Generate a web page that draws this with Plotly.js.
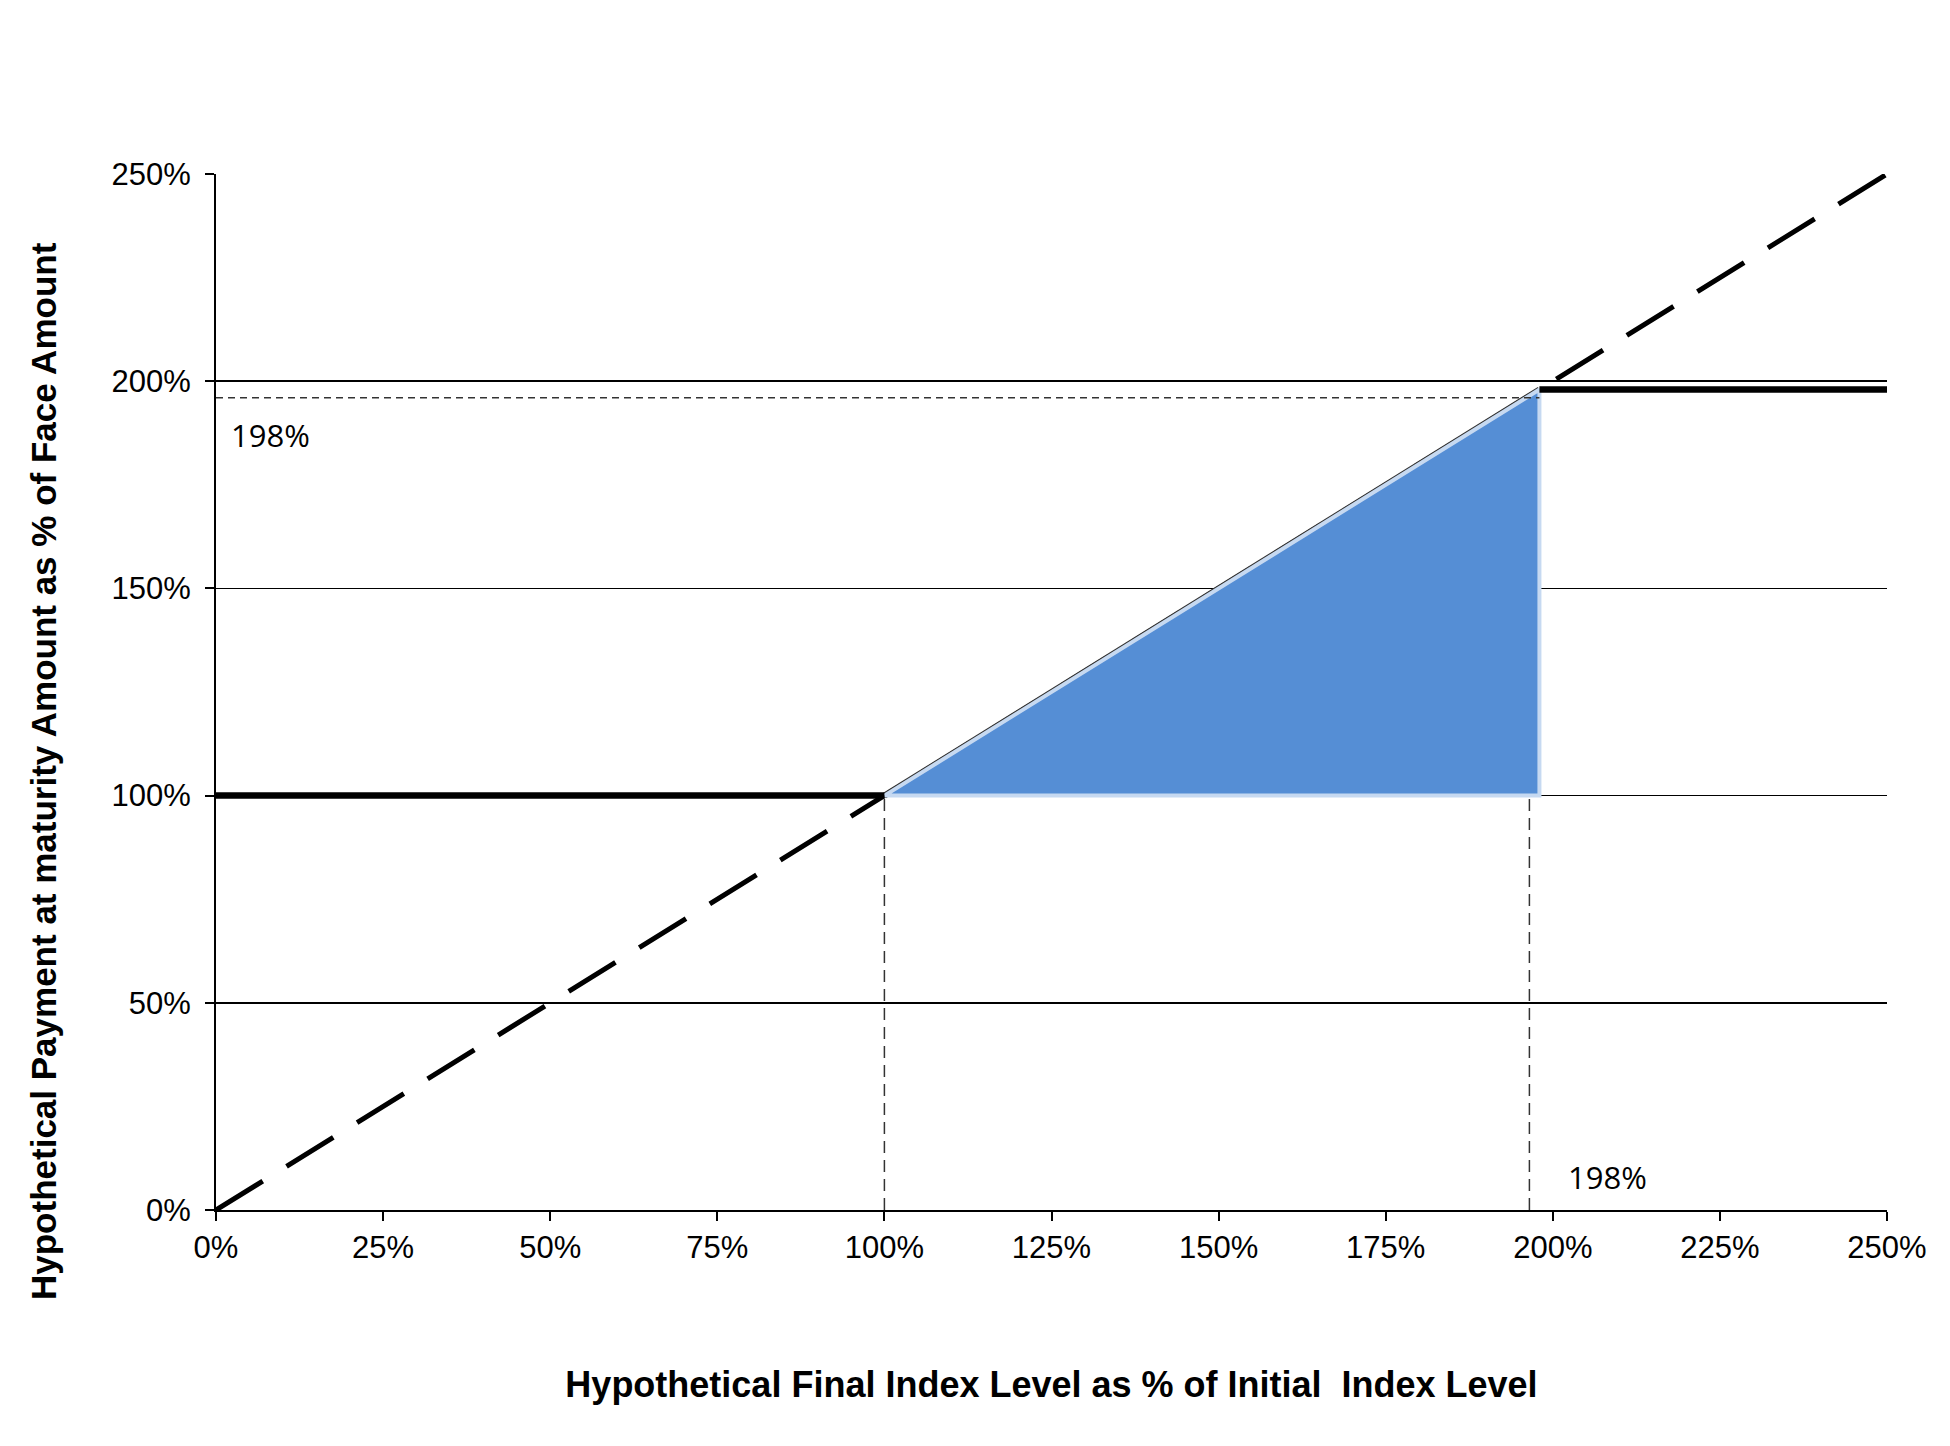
<!DOCTYPE html>
<html>
<head>
<meta charset="utf-8">
<script src="https://cdn.plot.ly/plotly-3.0.1.min.js"></script>
<style>html,body{margin:0;padding:0;background:#fff;}#chart{width:1950px;height:1446px;}</style>
</head>
<body>
<div id="chart"></div>
<script>
// Data (percent)
const diagX = [0, 250];
const diagY = [0, 250];
const floorX = [0, 100];
const floorY = [100, 100];
const capX = [198, 250];
const capY = [198, 198];
const triX = [100, 198, 198, 100];
const triY = [100, 198, 100, 100];
const hypX = [100, 198];
const hypY = [100, 198];
const dropX1 = [100, 100];
const dropY1 = [0, 100];
const dropX2 = [196.5, 196.5];
const dropY2 = [0, 100];
const capRefX = [0, 198];
const capRefY = [196, 196];
const tickVals = [0, 25, 50, 75, 100, 125, 150, 175, 200, 225, 250];
const yTickVals = [0, 50, 100, 150, 200, 250];
const capLabel = "198%";

const traces = [
  {x: diagX, y: diagY, mode: 'lines', line: {color: '#000', width: 5, dash: '55px,28px'}, hoverinfo: 'skip'},
  {x: hypX, y: hypY, mode: 'lines', line: {color: '#333', width: 6}, hoverinfo: 'skip'},
  {x: triX, y: triY, mode: 'lines', fill: 'toself', fillcolor: '#558ED5', line: {color: '#C6D9F1', width: 4}, hoverinfo: 'skip'},
  {x: dropX1, y: dropY1, mode: 'lines', line: {color: '#333', width: 1.5, dash: '12px,7px'}, hoverinfo: 'skip'},
  {x: dropX2, y: dropY2, mode: 'lines', line: {color: '#333', width: 1.5, dash: '12px,7px'}, hoverinfo: 'skip'},
  {x: capRefX, y: capRefY, mode: 'lines', line: {color: '#333', width: 1.5, dash: '7px,5px'}, hoverinfo: 'skip'},
  {x: floorX, y: floorY, mode: 'lines', line: {color: '#000', width: 6.5}, hoverinfo: 'skip'},
  {x: capX, y: capY, mode: 'lines', line: {color: '#000', width: 6.5}, hoverinfo: 'skip'}
];

const tickFont = {family: 'Liberation Sans, Arial, sans-serif', size: 31, color: '#000'};

const layout = {
  width: 1950, height: 1446,
  paper_bgcolor: '#fff', plot_bgcolor: '#fff',
  showlegend: false,
  margin: {l: 216, r: 63, t: 174, b: 236, autoexpand: false},
  xaxis: {
    range: [0, 250], tickvals: tickVals, ticktext: tickVals.map(v => v + '%'),
    showgrid: false, zeroline: false, showline: true, linecolor: '#000', linewidth: 2,
    ticks: 'outside', ticklen: 9, tickwidth: 2, tickcolor: '#000',
    tickfont: tickFont, automargin: false,
    title: {text: 'Hypothetical Final Index Level as % of Initial  Index Level',
      font: {family: 'Liberation Sans Narrow, Arial Narrow, Liberation Sans, sans-serif', size: 36, color: '#000', weight: 'bold'},
      standoff: 108}
  },
  yaxis: {
    range: [0, 250], tickvals: yTickVals, ticktext: yTickVals.map(v => v + '%'),
    showgrid: true, gridcolor: '#000', gridwidth: 1.5, zeroline: false,
    showline: true, linecolor: '#000', linewidth: 2,
    ticks: 'outside', ticklen: 9, tickwidth: 2, tickcolor: '#000',
    ticklabelstandoff: 8,
    tickfont: tickFont, automargin: false
  },
  annotations: [
    {x: 43, y: 771, xref: 'paper', yref: 'paper', text: 'Hypothetical Payment at maturity Amount as % of Face Amount',
      showarrow: false, textangle: -90, xanchor: 'center', yanchor: 'middle',
      font: {family: 'Liberation Sans, Arial, sans-serif', size: 35, color: '#000', weight: 'bold'}},
    {x: 2, y: 187, xref: 'x', yref: 'y', text: capLabel, showarrow: false, xanchor: 'left', yanchor: 'middle',
      font: {family: 'Open Sans, sans-serif', size: 31, color: '#000'}},
    {x: 202, y: 8, xref: 'x', yref: 'y', text: capLabel, showarrow: false, xanchor: 'left', yanchor: 'middle',
      font: {family: 'Open Sans, sans-serif', size: 31, color: '#000'}}
  ]
};

// convert pixel-based title position to paper coords
const plotW = 1950 - 216 - 63, plotH = 1446 - 174 - 236;
layout.annotations[0].x = (43 - 216) / plotW;
layout.annotations[0].y = (1446 - 236 - 771) / plotH;

Plotly.newPlot('chart', traces, layout, {displayModeBar: false, staticPlot: true});
</script>
</body>
</html>
